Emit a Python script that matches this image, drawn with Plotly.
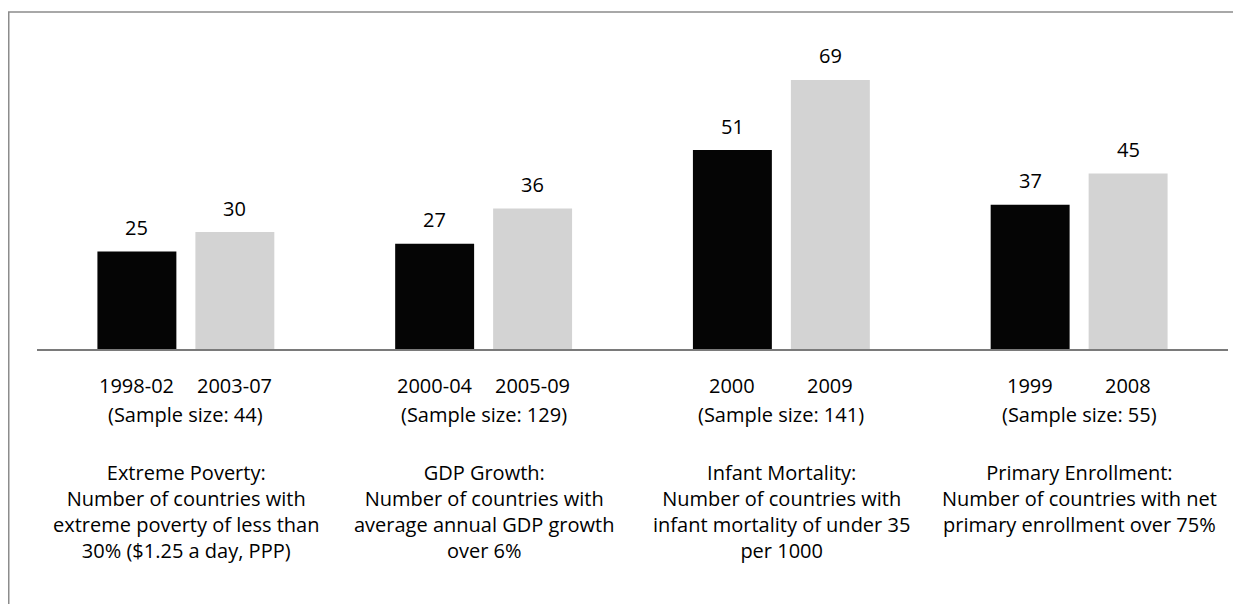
import plotly.graph_objects as go

# ---- data ----
indicators = ["Extreme Poverty", "GDP Growth", "Infant Mortality", "Primary Enrollment"]
period_before = ["1998-02", "2000-04", "2000", "1999"]
period_after = ["2003-07", "2005-09", "2009", "2008"]
sample_sizes = [44, 129, 141, 55]
values_before = [25, 27, 51, 37]
values_after = [30, 36, 69, 45]
description_lines = [
    ["Extreme Poverty:", "Number of countries with", "extreme poverty of less than", "30% ($1.25 a day, PPP)"],
    ["GDP Growth:", "Number of countries with", "average annual GDP growth", "over 6%"],
    ["Infant Mortality:", "Number of countries with", "infant mortality of under 35", "per 1000"],
    ["Primary Enrollment:", "Number of countries with net", "primary enrollment over 75%"],
]

FONT = "Open Sans"
FS = 20
BARGAP = 0.342
BARGROUPGAP = 0.194
half_slot = (1 - BARGAP) / 4  # offset of each bar centre from category centre

xs = list(range(len(indicators)))

fig = go.Figure()
fig.add_trace(go.Bar(x=xs, y=values_before, marker=dict(color="#050505", line=dict(width=0)),
                     name="before", showlegend=False))
fig.add_trace(go.Bar(x=xs, y=values_after, marker=dict(color="#d3d3d3", line=dict(width=0)),
                     name="after", showlegend=False))

txtfont = dict(family=FONT, size=FS, color="black")
ann = []
for i in xs:
    for off, v, lab in ((-half_slot, values_before[i], period_before[i]),
                        (half_slot, values_after[i], period_after[i])):
        ann.append(dict(x=i + off, y=v, xref="x", yref="y", text=str(v), showarrow=False,
                        yanchor="middle", yshift=24, font=txtfont))
        ann.append(dict(x=i + off, y=0, xref="x", yref="y", text=lab, showarrow=False,
                        yanchor="middle", yshift=-36, font=txtfont))
    ann.append(dict(x=i, y=0, xref="x", yref="y", text=f"(Sample size: {sample_sizes[i]})",
                    showarrow=False, yanchor="middle", yshift=-65, font=txtfont))
    ann.append(dict(x=i, y=0, xref="x", yref="y", text="<br>".join(description_lines[i]),
                    showarrow=False, yanchor="top", yshift=-108, align="center", font=txtfont))

W, H = 1233, 596
L, R, T, B = 29, 13, 29, 255
pw = W - L - R
ph = H - T - B
base = H - B

shapes = [dict(type="rect", xref="paper", yref="paper",
               x0=(0.75 - L) / pw, x1=(1250 - L) / pw,
               y0=(base - 620) / ph, y1=(base - 4) / ph,
               line=dict(color="#8c8c8c", width=1.5), fillcolor="rgba(0,0,0,0)", layer="below")]

fig.update_layout(
    width=W, height=H,
    margin=dict(l=L, r=R, t=T, b=B),
    paper_bgcolor="white", plot_bgcolor="white",
    barmode="group", bargap=BARGAP, bargroupgap=BARGROUPGAP,
    xaxis=dict(range=[-0.5, 3.5], showline=True, linecolor="#7a7a7a", linewidth=1.5,
               showticklabels=False, ticks="", showgrid=False, zeroline=False, fixedrange=True),
    yaxis=dict(range=[0, 80], visible=False, showgrid=False, zeroline=False, fixedrange=True),
    annotations=ann,
    shapes=shapes,
    font=txtfont,
)

fig.write_html("out.html")
